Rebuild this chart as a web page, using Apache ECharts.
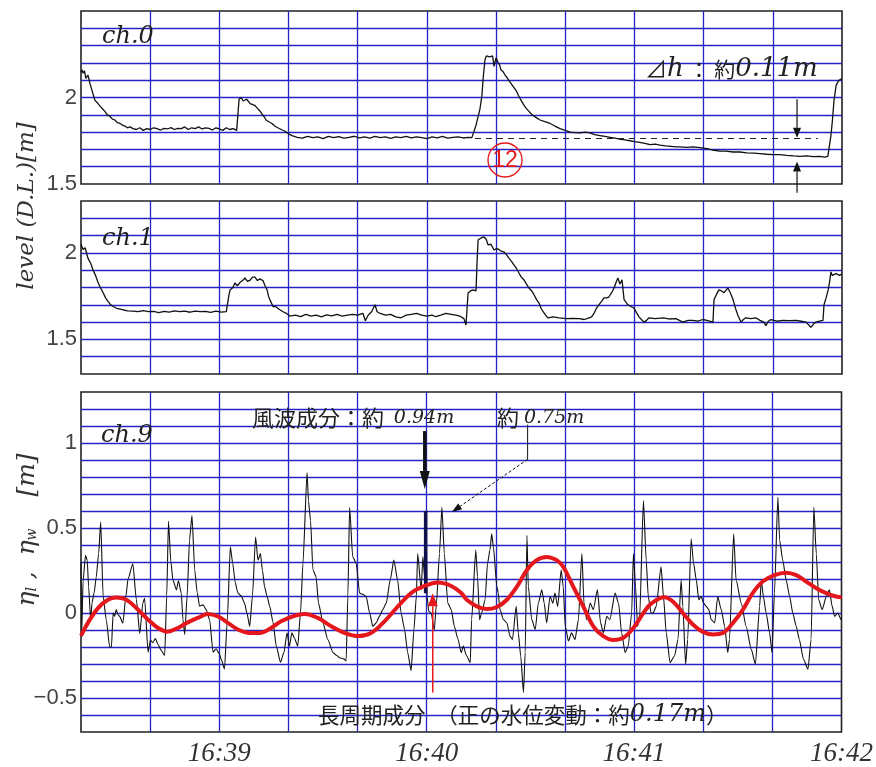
<!DOCTYPE html>
<html>
<head>
<meta charset="utf-8">
<script src="https://cdn.jsdelivr.net/npm/echarts@6/dist/echarts.min.js"></script>
<style>
html,body{margin:0;padding:0;background:#fff;}
#c{width:876px;height:767px;}
</style>
</head>
<body>
<div id="c"></div>
<script>
// time axis: seconds after 16:38:00
const timeTickSec = [60, 120, 180, 240];
const timeTickLabels = ['16:39', '16:40', '16:41', '16:42'];
const levelTicks = [1.5, 2];
const waveTicks = [-0.5, 0, 0.5, 1];

// ch.0 water level [m] : [sec, value]
const ch0 = [[20,2.147],[20.3,2.16],[20.6,2.14],[21.0,2.155],[21.4,2.11],[22,2.13],[22.6,2.08],[23.2,2.04],[24,1.985],[24.7,1.97],[25.5,1.95],[26.2,1.935],[26.9,1.92],[27.6,1.90],[28.4,1.89],[29.1,1.875],[29.8,1.87],[30.5,1.855],[31.3,1.85],[32,1.84],[32.7,1.835],[33.4,1.825],[34.2,1.83],[35,1.82],[36,1.815],[37,1.825],[38,1.81],[39,1.82],[40,1.815],[41,1.825],[42,1.82],[43,1.812],[44,1.822],[45,1.818],[46,1.826],[47,1.815],[48,1.822],[49,1.82],[50,1.83],[51,1.815],[52,1.825],[53,1.82],[54,1.83],[55,1.818],[56,1.825],[57,1.822],[58,1.812],[59,1.825],[60,1.818],[61,1.81],[62,1.825],[63,1.815],[64,1.82],[65,1.81],[65.4,1.812],[65.7,1.99],[66.3,2.0],[66.9,1.98],[67.4,1.97],[67.9,1.99],[68.3,1.985],[68.9,1.965],[69.4,1.97],[70.2,1.955],[70.9,1.94],[71.6,1.925],[72.3,1.905],[72.9,1.89],[73.5,1.87],[74.3,1.86],[75.2,1.85],[76,1.835],[76.9,1.825],[77.9,1.815],[79,1.805],[80,1.79],[81,1.78],[82.5,1.77],[84,1.765],[85.5,1.775],[87,1.768],[88.5,1.772],[90,1.762],[91.5,1.775],[93,1.768],[94.5,1.774],[96,1.765],[97.5,1.77],[99,1.776],[100.5,1.766],[102,1.772],[103.5,1.765],[105,1.775],[106.5,1.768],[108,1.772],[109.5,1.764],[111,1.772],[112.5,1.768],[114,1.775],[115.5,1.766],[117,1.772],[118.5,1.768],[120,1.762],[121.5,1.772],[123,1.767],[124.5,1.775],[126,1.765],[127.5,1.77],[129,1.772],[130.5,1.766],[132,1.77],[133,1.768],[133.3,1.77],[134.2,1.84],[134.8,1.89],[135.3,1.93],[135.9,2.01],[136.3,2.12],[136.8,2.22],[137.2,2.24],[137.7,2.245],[138.1,2.235],[138.5,2.23],[139,2.24],[139.4,2.18],[140,2.23],[140.5,2.205],[141,2.19],[141.4,2.16],[142,2.15],[142.6,2.13],[143.3,2.11],[144,2.09],[144.9,2.065],[145.8,2.04],[146.5,2.01],[147.2,1.985],[147.9,1.96],[148.6,1.94],[149.5,1.92],[150.4,1.90],[151.5,1.885],[152.7,1.87],[154.1,1.86],[155.6,1.85],[157,1.835],[158.5,1.82],[160,1.81],[161.4,1.80],[162.8,1.797],[164.3,1.795],[165.7,1.80],[167.1,1.795],[168.5,1.785],[170,1.78],[171.5,1.775],[173,1.77],[174.4,1.765],[176,1.758],[177.3,1.755],[178.7,1.75],[180,1.745],[181.5,1.74],[183,1.735],[184.5,1.728],[186,1.73],[187.4,1.725],[189,1.72],[190.5,1.718],[192,1.715],[193.2,1.715],[195,1.712],[197,1.715],[199,1.71],[201,1.705],[203,1.695],[204.7,1.69],[206.5,1.69],[208.5,1.685],[210.5,1.685],[212.5,1.68],[214.5,1.678],[216.3,1.675],[218.2,1.672],[220.2,1.67],[222.1,1.67],[224,1.665],[226,1.662],[227.9,1.66],[229.8,1.663],[231.7,1.658],[233.6,1.66],[235,1.655],[235.4,1.645],[235.9,1.66],[236.2,1.70],[236.8,1.78],[237.2,1.86],[237.7,1.985],[238.3,2.07],[238.7,2.06],[239.1,2.10],[239.6,2.09],[240,2.11]];

// ch.1 water level [m]
const ch1 = [[20,2.05],[20.6,2.02],[21.2,2.03],[22,1.97],[22.8,1.94],[23.5,1.90],[24.2,1.87],[24.9,1.83],[25.6,1.80],[26.4,1.77],[27.1,1.74],[27.8,1.72],[28.6,1.70],[29.3,1.69],[30.3,1.68],[31.3,1.675],[32.3,1.67],[33.5,1.665],[35,1.664],[36.5,1.66],[38,1.667],[39.5,1.66],[41,1.662],[42.5,1.655],[44,1.662],[45.5,1.658],[47,1.665],[48.5,1.66],[50,1.663],[51.5,1.657],[53,1.664],[54.5,1.66],[56,1.662],[57.5,1.656],[59,1.663],[60.5,1.658],[62,1.66],[62.5,1.655],[62.8,1.76],[63.1,1.786],[63.9,1.80],[64.5,1.826],[65.2,1.81],[66,1.83],[66.7,1.84],[67.4,1.855],[68.1,1.835],[68.9,1.843],[69.6,1.86],[70.3,1.86],[71,1.84],[71.7,1.85],[72.6,1.84],[73.2,1.81],[73.8,1.786],[74.2,1.75],[74.6,1.73],[75.5,1.69],[76.2,1.69],[76.9,1.68],[77.6,1.67],[78.4,1.66],[79.4,1.65],[80.4,1.635],[82,1.64],[83.5,1.632],[85,1.645],[86.5,1.635],[88,1.64],[89.5,1.63],[91,1.642],[92.5,1.636],[94,1.645],[95.5,1.634],[97,1.64],[98.5,1.645],[100,1.64],[101.5,1.651],[102.2,1.608],[103,1.64],[104,1.66],[105,1.70],[105.6,1.66],[106.5,1.65],[108,1.64],[109.5,1.645],[111,1.63],[112.5,1.625],[114,1.64],[115.5,1.645],[117,1.65],[118.5,1.64],[120,1.635],[121.5,1.64],[122.6,1.631],[124,1.64],[125.5,1.65],[127,1.645],[128.4,1.64],[129.5,1.635],[130.7,1.62],[131.3,1.583],[131.9,1.768],[132.6,1.78],[133.3,1.786],[134.2,1.78],[134.5,1.95],[134.8,2.075],[135.6,2.086],[136.5,2.092],[137.1,2.08],[137.7,2.046],[138.5,2.05],[139.4,2.017],[140.1,2.025],[140.8,2.02],[141.5,2.01],[142.3,2.005],[143.0,1.99],[143.7,1.97],[144.5,1.95],[145.2,1.93],[145.9,1.91],[146.6,1.884],[147.3,1.86],[148.1,1.843],[148.8,1.82],[149.5,1.797],[150.3,1.78],[151,1.757],[151.7,1.73],[152.4,1.71],[153,1.68],[153.6,1.66],[154.3,1.64],[155,1.624],[156.5,1.63],[158.2,1.625],[160.2,1.62],[162.2,1.622],[164,1.62],[165.5,1.615],[166.9,1.625],[167.6,1.63],[168.3,1.65],[169,1.68],[169.7,1.70],[170.5,1.72],[171.2,1.74],[171.9,1.74],[172.6,1.745],[173.4,1.77],[174.1,1.797],[174.7,1.83],[175.2,1.855],[175.8,1.82],[176.4,1.845],[177,1.73],[177.5,1.72],[178.1,1.70],[179,1.69],[179.9,1.68],[180.6,1.655],[181.3,1.63],[182,1.615],[182.8,1.60],[183.5,1.61],[184.2,1.625],[186,1.62],[188.3,1.625],[190,1.618],[192,1.62],[193,1.61],[194,1.60],[195.5,1.61],[196.9,1.61],[198.3,1.605],[199.8,1.615],[201.2,1.608],[202.7,1.60],[203,1.73],[203.7,1.76],[204.4,1.786],[205.2,1.78],[205.9,1.77],[206.5,1.785],[207,1.797],[207.7,1.77],[208.5,1.73],[209.2,1.68],[209.9,1.64],[210.8,1.60],[211.5,1.615],[212.2,1.625],[213.6,1.62],[215.1,1.625],[216.3,1.61],[217.4,1.60],[218,1.58],[218.7,1.605],[219.5,1.615],[221.2,1.605],[222.9,1.61],[224.8,1.608],[226.7,1.61],[228.2,1.605],[229.6,1.60],[231,1.57],[231.8,1.59],[232.5,1.60],[233.5,1.605],[234.5,1.61],[234.8,1.70],[235.4,1.74],[236,1.786],[236.4,1.83],[236.8,1.89],[237.2,1.87],[237.7,1.875],[238.3,1.88],[238.8,1.89],[239.3,1.87],[240,1.88]];

// ch.9 surface elevation (wind waves) [m]
const ch9 = [[20,0.30],[20.2,-0.12],[20.6,0.19],[21.3,0.34],[21.8,0.31],[22.2,0.155],[22.8,-0.04],[23.2,0.06],[23.8,0.12],[24.4,0.21],[25.1,0.35],[25.7,0.535],[26.4,0.10],[27.3,-0.04],[28.3,-0.20],[28.8,-0.20],[29.3,0.0],[29.7,-0.02],[30.2,0.02],[30.7,-0.01],[31.2,-0.02],[32.1,-0.06],[33.0,0.10],[33.6,0.20],[35.0,0.29],[36.0,0.08],[37.0,-0.12],[37.9,0.06],[38.4,0.087],[39.4,-0.23],[40.1,-0.16],[40.8,-0.175],[41.5,-0.15],[42.3,-0.185],[43.2,-0.22],[44.2,-0.25],[44.8,0.1],[45.3,0.54],[46.0,0.30],[46.6,0.194],[47.6,0.136],[48.2,0.19],[49.0,0.117],[49.5,-0.04],[50.0,-0.126],[50.7,0.1],[51.4,0.43],[52.1,0.573],[52.9,0.253],[53.6,0.12],[54.3,0.04],[55.3,0.048],[56.2,0.02],[57.2,-0.04],[58.2,-0.23],[59.1,-0.21],[60.0,-0.24],[60.7,-0.28],[61.5,-0.33],[62.3,-0.05],[63.2,0.39],[63.9,0.29],[64.6,0.18],[65.4,0.117],[66.4,0.10],[67.3,0.058],[68.0,0.0],[68.8,-0.078],[69.6,0.1],[70.5,0.447],[71.2,0.31],[71.9,0.35],[72.5,0.25],[73.1,0.155],[73.8,0.10],[74.6,0.04],[75.5,-0.05],[76.5,-0.195],[77.7,-0.29],[78.7,-0.233],[79.6,-0.117],[80.3,-0.195],[81.0,-0.117],[81.8,-0.15],[82.7,-0.195],[83.5,0.0],[84.2,0.29],[85.4,0.826],[85.8,0.66],[86.4,0.544],[87.1,0.253],[88.0,0.214],[88.7,0.058],[90.0,-0.058],[91.4,-0.156],[92.9,-0.233],[94.0,-0.25],[94.8,-0.263],[96.0,-0.27],[96.7,-0.282],[97.2,0.1],[97.7,0.622],[98.6,0.331],[99.6,0.292],[100.6,0.117],[101.5,0.11],[102.5,0.097],[103.5,0.0],[104.4,-0.078],[105.4,-0.058],[106.3,-0.02],[107.3,0.02],[108.3,0.058],[109.5,0.2],[110.5,0.311],[111.6,0.194],[112.6,0.0],[113.6,-0.097],[114.5,-0.233],[115.5,-0.34],[116.3,-0.1],[117.0,0.097],[117.4,0.35],[118.4,0.136],[118.9,0.331],[119.4,0.214],[119.8,0.6],[120.1,0.1],[120.6,0.01],[121.3,0.0],[122.2,-0.1],[122.8,0.05],[123.7,0.35],[124.4,0.622],[125.1,0.35],[126.1,0.058],[127.1,0.02],[128.0,-0.078],[129.0,-0.15],[130.0,-0.233],[130.6,-0.195],[131.5,-0.25],[132.6,-0.292],[133.0,-0.039],[134.2,0.37],[134.7,0.214],[135.3,-0.039],[135.9,0.0],[136.9,0.078],[137.6,0.292],[138.3,0.37],[138.8,0.466],[139.3,0.389],[140.3,0.155],[140.7,0.117],[141.2,0.02],[142.2,-0.039],[143.2,-0.058],[144.1,-0.136],[144.8,-0.156],[145.9,0.039],[146.5,-0.117],[147.2,-0.253],[148.0,-0.467],[148.5,-0.233],[149.0,0.457],[149.4,0.155],[150.4,-0.039],[151.4,-0.097],[152.3,0.058],[153.3,0.136],[154.0,0.058],[154.7,-0.058],[155.7,0.097],[156.5,0.058],[157.1,0.117],[157.9,0.039],[158.9,0.253],[159.5,0.155],[160.1,-0.078],[161.0,-0.165],[161.9,-0.117],[162.9,-0.156],[163.9,-0.039],[164.9,0.35],[165.5,0.058],[166.3,-0.039],[167.3,0.058],[168.2,0.02],[169.4,0.136],[170.3,-0.058],[171.1,-0.117],[172.1,-0.02],[173.0,-0.039],[174.5,0.117],[175.5,0.058],[176.4,-0.117],[177.4,-0.233],[178.3,-0.195],[179.3,0.0],[179.8,0.35],[180.4,0.16],[181.0,-0.078],[181.6,-0.03],[182.7,0.661],[183.5,0.311],[184.1,0.097],[184.9,0.0],[185.5,0.0],[186.4,0.039],[187.8,0.272],[188.5,0.097],[189.3,-0.117],[190.4,-0.292],[191.7,-0.253],[192.7,-0.156],[193.6,0.194],[194.1,0.039],[194.9,-0.301],[195.5,-0.156],[196.5,0.437],[197.2,0.292],[198.0,0.194],[198.7,0.078],[199.4,0.097],[200.1,0.058],[200.9,0.039],[201.6,0.02],[202.3,-0.039],[203.3,-0.058],[204.2,0.097],[205.2,0.02],[206.2,-0.078],[207.1,-0.233],[207.6,-0.156],[208.8,0.466],[209.5,0.194],[211.0,0.058],[212.4,-0.078],[213.9,-0.214],[215.1,-0.301],[216.3,0.039],[216.8,0.194],[217.4,0.097],[218.2,0.0],[219.2,-0.117],[219.9,-0.233],[220.6,0.117],[221.6,0.68],[222.1,0.428],[223.0,0.311],[224.0,0.194],[225.0,0.097],[225.9,0.0],[226.9,-0.078],[227.8,-0.156],[229.0,-0.272],[230.3,-0.331],[231.2,-0.156],[232.0,0.622],[232.7,0.35],[233.4,0.078],[234.4,0.02],[235.6,0.097],[236.5,0.136],[237.3,0.039],[238.0,-0.02],[238.9,0.0],[239.9,-0.039],[240,-0.03]];

// highlighted wind-wave crest (drawn bold)
const windWaveCrest = [[119.7,0.116],[119.7,0.60]];

// long-period component [m]
const longPeriod = [[20,-0.134],[22,-0.058],[24.9,0.029],[27.8,0.078],[30.2,0.091],[33.1,0.078],[36,0.029],[39.4,-0.039],[42.3,-0.088],[45,-0.11],[48,-0.088],[50.9,-0.055],[53.8,-0.029],[56.7,-0.006],[59.6,-0.02],[62.5,-0.058],[65.4,-0.097],[68.8,-0.117],[71.7,-0.117],[75,-0.088],[77.9,-0.049],[81.8,-0.016],[84.7,-0.006],[88.5,-0.029],[92.4,-0.078],[96.2,-0.117],[100.1,-0.136],[103.9,-0.117],[107.8,-0.049],[111.7,0.039],[115.5,0.117],[119.4,0.159],[123.2,0.179],[127.1,0.159],[130,0.117],[131.6,0.078],[134.5,0.039],[137.4,0.023],[140.3,0.035],[143.2,0.078],[146.1,0.155],[149,0.253],[151.8,0.311],[154.7,0.33],[157.6,0.311],[159.5,0.272],[162.4,0.155],[165.3,0.039],[168.2,-0.078],[171.1,-0.136],[174,-0.159],[176.9,-0.146],[179.8,-0.088],[182.7,0.0],[185.1,0.058],[188.8,0.093],[191.2,0.068],[194.1,0.0],[197,-0.068],[199.9,-0.111],[202.8,-0.126],[205.7,-0.117],[208.6,-0.058],[211.5,0.02],[214.3,0.117],[217.2,0.185],[220.6,0.223],[224,0.237],[226.9,0.223],[229.8,0.185],[232.7,0.146],[235.6,0.117],[238.4,0.097],[240,0.093]];

// annotation anchors (data space)
const dhLevel = 1.765;
const dhSpan = [133.9, 233.0];

const GRID_BLUE = '#2424c4';
const SERIF_I = 'DejaVu Serif';
const CJK = 'Noto Sans CJK JP';

function near(v, arr) { return arr.find(a => Math.abs(a - v) < 1e-6); }
function yLabel(arr) {
  return function (v) {
    const m = near(v, arr);
    if (m === undefined) return '';
    return (m < 0 ? '\u2212' : '') + String(Math.abs(m));
  };
}
function xAxisCfg(gi, showLabels) {
  return {
    type: 'value', gridIndex: gi, min: 20, max: 240, interval: 20,
    axisLine: { show: false }, axisTick: { show: false },
    splitLine: { show: true, showMinLine: false, showMaxLine: false, lineStyle: { color: GRID_BLUE, width: 1.3 } },
    axisLabel: showLabels ? {
      show: true, margin: 8, fontSize: 27, fontStyle: 'italic', fontFamily: 'Liberation Serif', color: '#333',
      formatter: function (v) { const i = timeTickSec.findIndex(s => Math.abs(s - v) < 1e-6); return i >= 0 ? timeTickLabels[i] : ''; }
    } : { show: false }
  };
}
function yAxisCfg(gi, min, max, ticks) {
  return {
    type: 'value', gridIndex: gi, min: min, max: max, interval: 0.1,
    axisLine: { show: false }, axisTick: { show: false },
    splitLine: { show: true, showMinLine: false, showMaxLine: false, lineStyle: { color: GRID_BLUE, width: 1.3 } },
    axisLabel: { show: true, margin: 4, fontSize: 22, fontFamily: 'Liberation Sans', color: '#444', formatter: yLabel(ticks) }
  };
}
const gridCommon = { left: 81, right: 34, show: true, borderColor: '#222', borderWidth: 1.6, backgroundColor: '#fff' };

const option = {
  animation: false,
  backgroundColor: '#fff',
  grid: [
    Object.assign({ top: 11, height: 173 }, gridCommon),
    Object.assign({ top: 201, height: 173 }, gridCommon),
    Object.assign({ top: 392, height: 343 }, gridCommon)
  ],
  xAxis: [xAxisCfg(0, false), xAxisCfg(1, false), xAxisCfg(2, true)],
  yAxis: [yAxisCfg(0, 1.5, 2.5, levelTicks), yAxisCfg(1, 1.3, 2.3, levelTicks), yAxisCfg(2, -0.7, 1.3, waveTicks)],
  series: [
    { name: 'ch.0', type: 'line', xAxisIndex: 0, yAxisIndex: 0, data: ch0, showSymbol: false, symbol: 'none',
      lineStyle: { color: '#111', width: 1.3 }, z: 3,
      markLine: { silent: true, symbol: ['none', 'none'], label: { show: false },
        lineStyle: { color: '#222', width: 1, type: [6, 5] },
        data: [[{ coord: [dhSpan[0], dhLevel] }, { coord: [dhSpan[1], dhLevel] }]] } },
    { name: 'ch.1', type: 'line', xAxisIndex: 1, yAxisIndex: 1, data: ch1, showSymbol: false, symbol: 'none',
      lineStyle: { color: '#111', width: 1.3 }, z: 3 },
    { name: 'ch.9', type: 'line', xAxisIndex: 2, yAxisIndex: 2, data: ch9, showSymbol: false, symbol: 'none',
      smooth: 0.2, smoothMonotone: 'x', lineStyle: { color: '#111', width: 1.1 }, z: 3 },
    { name: 'crest', type: 'line', xAxisIndex: 2, yAxisIndex: 2, data: windWaveCrest, showSymbol: false, symbol: 'none',
      lineStyle: { color: '#10104a', width: 3.5 }, z: 4 },
    { name: 'long', type: 'line', xAxisIndex: 2, yAxisIndex: 2, data: longPeriod, showSymbol: false, symbol: 'none',
      smooth: 0.4, lineStyle: { color: '#e4181c', width: 4 }, z: 5 }
  ]
};

const chart = echarts.init(document.getElementById('c'), null, { renderer: 'canvas' });
chart.setOption(option);

function P(g, p) { return chart.convertToPixel({ gridIndex: g }, p); }
function arrowEls(a, b, w, color, headW, headL, dash) {
  const dx = b[0] - a[0], dy = b[1] - a[1], len = Math.hypot(dx, dy);
  const ux = dx / len, uy = dy / len, nx = -uy, ny = ux;
  const base = [b[0] - ux * headL, b[1] - uy * headL];
  return [
    { type: 'line', z: 100, shape: { x1: a[0], y1: a[1], x2: base[0], y2: base[1] },
      style: { stroke: color, lineWidth: w, lineDash: dash || null } },
    { type: 'polygon', z: 100, shape: { points: [[b[0], b[1]], [base[0] + nx * headW / 2, base[1] + ny * headW / 2], [base[0] - nx * headW / 2, base[1] - ny * headW / 2]] },
      style: { fill: color } }
  ];
}

const g = [];
// Δh arrows
g.push(...arrowEls(P(0, [227.0, 1.99]), P(0, [227.0, 1.768]), 1.2, '#111', 8, 10));
g.push(...arrowEls(P(0, [227.0, 1.45]), P(0, [227.0, 1.63]), 1.2, '#111', 8, 10));
// bold arrow to 0.94 m crest
g.push(...arrowEls(P(2, [119.45, 1.07]), P(2, [119.45, 0.73]), 3.5, '#111', 10, 18));
// 0.75 m leader
const l1 = P(2, [149.2, 1.108]), l2 = P(2, [149.2, 0.904]), l3 = P(2, [127.3, 0.594]);
g.push({ type: 'line', z: 100, shape: { x1: l1[0], y1: l1[1], x2: l2[0], y2: l2[1] }, style: { stroke: '#111', lineWidth: 1 } });
g.push(...arrowEls(l2, l3, 1, '#111', 7, 10, [3, 2]));
// red arrow (long-period)
g.push(...arrowEls(P(2, [121.76, -0.467]), P(2, [121.76, 0.116]), 1.5, '#e4181c', 10, 13));

// circled 12
g.push({ type: 'circle', z: 100, shape: { cx: 505, cy: 160, r: 17 }, style: { fill: 'none', stroke: '#e4181c', lineWidth: 1.3 } });
g.push({ type: 'text', z: 101, x: 505, y: 161, style: { text: '12', fontSize: 23, fontFamily: 'Liberation Sans', fill: '#e4181c', align: 'center', verticalAlign: 'middle' } });

// texts
g.push({ type: 'text', z: 101, x: 645, y: 69, style: {
  text: '{d|⊿}{h|h}{c| ：}{c| 約}{n|0.11m}', verticalAlign: 'middle', align: 'left',
  rich: {
    d: { fontSize: 22, fontFamily: CJK, fill: '#222' },
    h: { fontSize: 26, fontFamily: SERIF_I, fontStyle: 'italic', fill: '#222' },
    c: { fontSize: 21, fontFamily: CJK, fill: '#222' },
    n: { fontSize: 26, fontFamily: SERIF_I, fontStyle: 'italic', fill: '#222' }
  } } });

const chStyle = { fontSize: 24, fontFamily: SERIF_I, fontStyle: 'italic', fill: '#222', verticalAlign: 'middle', align: 'left' };
g.push({ type: 'text', z: 101, x: 102, y: 37, style: Object.assign({ text: 'ch.0' }, chStyle) });
g.push({ type: 'text', z: 101, x: 102, y: 239, style: Object.assign({ text: 'ch.1' }, chStyle) });
g.push({ type: 'text', z: 101, x: 101, y: 436, style: Object.assign({ text: 'ch.9' }, chStyle) });

g.push({ type: 'text', z: 101, x: 27, y: 206, rotation: Math.PI / 2, style: {
  text: 'level (D.L.)[m]', fontSize: 23, fontFamily: SERIF_I, fontStyle: 'italic', fill: '#333', align: 'center', verticalAlign: 'middle' } });
g.push({ type: 'text', z: 101, x: 27, y: 530, rotation: Math.PI / 2, style: {
  text: '{e|η}{s|l}{e| ,  η}{s|w}{e|    [m]}', align: 'center', verticalAlign: 'middle',
  rich: {
    e: { fontSize: 25, fontFamily: SERIF_I, fontStyle: 'italic', fill: '#333' },
    s: { fontSize: 14, fontFamily: SERIF_I, fontStyle: 'italic', fill: '#333', verticalAlign: 'bottom' }
  } } });

const jStyle = (fs) => ({ fontSize: fs, fontFamily: CJK, fill: '#222' });
const nStyle = (fs) => ({ fontSize: fs, fontFamily: SERIF_I, fontStyle: 'italic', fill: '#222' });
g.push({ type: 'text', z: 101, x: 252, y: 418, style: {
  text: '{j|風波成分：約  }{n|0.94m}', verticalAlign: 'middle', align: 'left', rich: { j: jStyle(22), n: nStyle(19) } } });
g.push({ type: 'text', z: 101, x: 497, y: 418, style: {
  text: '{j|約 }{n|0.75m}', verticalAlign: 'middle', align: 'left', rich: { j: jStyle(22), n: nStyle(19) } } });
g.push({ type: 'text', z: 101, x: 318, y: 715, style: {
  text: '{j|長周期成分　（正の水位変動：約}{n|0.17m}{j|）}', verticalAlign: 'middle', align: 'left', rich: { j: jStyle(21.5), n: nStyle(24) } } });

chart.setOption({ graphic: g });
</script>
</body>
</html>
